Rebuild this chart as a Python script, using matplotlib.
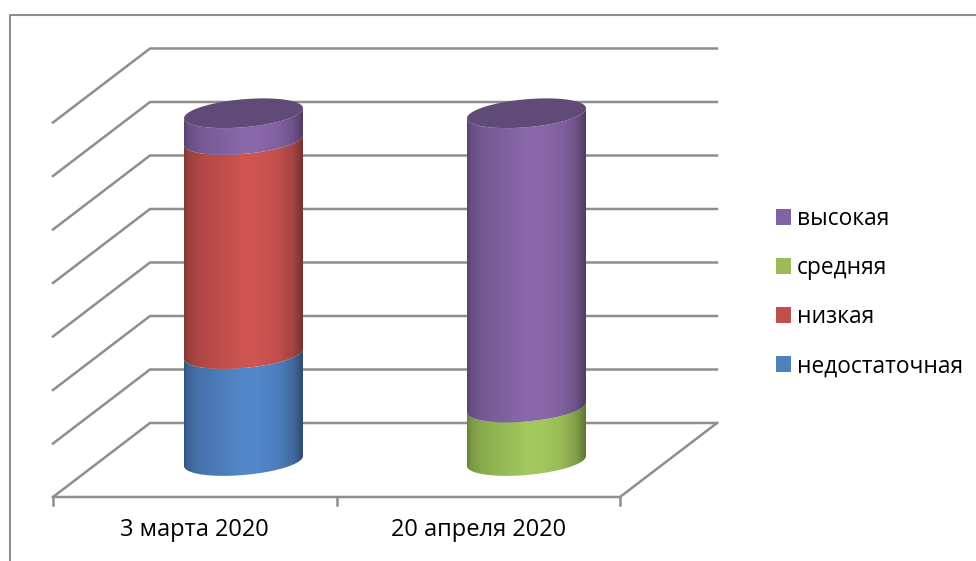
import numpy as np
import matplotlib
matplotlib.use("Agg")
import matplotlib.pyplot as plt
from matplotlib.patches import Patch, PathPatch
from matplotlib.path import Path

plt.rcParams['font.family'] = ['Open Sans', 'DejaVu Sans']

categories = ['3 марта 2020', '20 апреля 2020']
series_names = ['недостаточная', 'низкая', 'средняя', 'высокая']
nedostat = [20, 0]
nizkaya = [40, 0]
srednyaya = [0, 10]
vysokaya = [5, 55]
grid_values = [0, 10, 20, 30, 40, 50, 60, 70]

# bright colour / dark colour of each series
colors = [('#5389CB', '#2F4B73'), ('#D05551', '#763230'),
          ('#A4CA5E', '#5E7634'), ('#8B69AC', '#4F3D66')]
legend_colors = ['#4F81BD', '#C0504D', '#9BBB59', '#8064A2']
grid_color = '#8E8E8E'

# layout of the fake 3D box, in pixels
back_left, back_right = 150, 717
front_left, front_right = 53, 620
floor_back, floor_front = 423, 497
px_per_unit = 5.35
cyl_bottom = 461
cyl_half = 59.5
cyl_centers = [243.5, 526.5]
tilt = 5.0
squash = 14.0


def val_y(v):
    return cyl_bottom - v * px_per_unit


def front_curve(cx, cy, n=60):
    # lower half of the tilted ellipse, left to right
    t = np.linspace(np.pi, 0, n)
    return cx + cyl_half * np.cos(t), cy - tilt * np.cos(t) + squash * np.sin(t)


def shade(bright, dark):
    c1 = np.array(matplotlib.colors.to_rgb(bright))
    c2 = np.array(matplotlib.colors.to_rgb(dark))
    pos = np.linspace(0, 1, 120)
    mix = np.interp(pos, [0, 0.03, 0.12, 0.3, 0.5, 0.62, 0.8, 0.92, 1.0],
                    [0.85, 0.6, 0.38, 0.2, 0.02, 0.02, 0.18, 0.5, 1.0])
    return (c1[None, :] * (1 - mix[:, None]) + c2[None, :] * mix[:, None])[None, :, :]


fig = plt.figure(figsize=(9.76, 5.61), dpi=100)
ax = fig.add_axes([0, 0, 1, 1])

# outer frame, right and bottom run off the picture
ax.plot([10, 10, 976], [561, 15, 15], color=grid_color, lw=1.5, zorder=1)

# back wall and side wall gridlines
for g in grid_values:
    y = floor_back - g * px_per_unit
    ax.plot([front_left, back_left, back_right],
            [y + floor_front - floor_back, y, y],
            color=grid_color, lw=1.8, zorder=1, solid_joinstyle='miter')

# floor front edge, right edge and ticks
ax.plot([front_left, front_right, back_right], [floor_front, floor_front, floor_back],
        color=grid_color, lw=1.8, zorder=1)
for x in [front_left, (front_left + front_right) / 2, front_right]:
    ax.plot([x, x], [floor_front, floor_front + 8], color=grid_color, lw=1.8, zorder=1)

# stacked cylinders
all_series = [nedostat, nizkaya, srednyaya, vysokaya]
for i, cx in enumerate(cyl_centers):
    total = 0
    for s, vals in enumerate(all_series):
        v = vals[i]
        if v == 0:
            continue
        x0, y0 = front_curve(cx, val_y(total))
        x1, y1 = front_curve(cx, val_y(total + v))
        verts = np.vstack([np.column_stack([x0, y0]),
                           np.column_stack([x1[::-1], y1[::-1]]),
                           [[x0[0], y0[0]]]])
        clip = PathPatch(Path(verts), transform=ax.transData, fc='none', ec='none')
        ax.add_patch(clip)
        img = ax.imshow(shade(*colors[s]), extent=(cx - cyl_half, cx + cyl_half, y0.max() + 1, y1.min() - 1),
                        aspect='auto', zorder=3, interpolation='bilinear')
        img.set_clip_path(clip)
        total += v
    # top cap
    top_y = val_y(total)
    t = np.linspace(0, 2 * np.pi, 120)
    cap = np.column_stack([cx + cyl_half * np.cos(t),
                           top_y - tilt * np.cos(t) + squash * np.sin(t)])
    ax.add_patch(plt.Polygon(cap, closed=True, fc='#5F4A78', ec='none', zorder=4))

# category labels
for i, name in enumerate(categories):
    ax.text((front_left + (i + 0.5) * (front_right - front_left) / 2), 530, name,
            ha='center', va='center', fontsize=17, color='black')

handles = [Patch(fc=c, ec='none') for c in legend_colors[::-1]]
ax.legend(handles, series_names[::-1], loc='upper left', bbox_to_anchor=(776 / 976, 1 - 207 / 561),
          frameon=False, fontsize=16.4, handlelength=0.66, handleheight=0.66,
          handletextpad=0.26, labelspacing=1.1, borderpad=0, borderaxespad=0)

ax.set_xlim(0, 976)
ax.set_ylim(561, 0)
ax.axis('off')

plt.savefig('out.png', dpi=100)
